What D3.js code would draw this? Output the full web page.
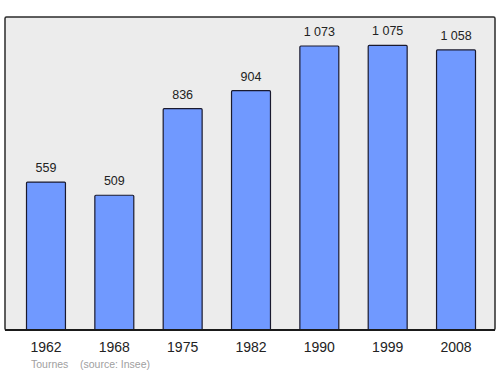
<!DOCTYPE html>
<html>
<head>
<meta charset="utf-8">
<script src="https://d3js.org/d3.v7.min.js"></script>
<style>
  body { margin: 0; padding: 0; background: #fff; }
  text { font-family: "Liberation Sans", Arial, sans-serif; }
</style>
</head>
<body>
<div id="chart"></div>
<script>
// population by census year
var years = ["1962", "1968", "1975", "1982", "1990", "1999", "2008"];
var population = [559, 509, 836, 904, 1073, 1075, 1058];
var valueLabels = ["559", "509", "836", "904", "1 073", "1 075", "1 058"];
var footer = ["Tournes", "(source: Insee)"];

var width = 500, height = 374;
var plot = { left: 5, right: 495, top: 17, bottom: 330 };

var svg = d3.select("#chart").append("svg")
    .attr("width", width)
    .attr("height", height);

// frame / background
svg.append("rect")
    .attr("x", plot.left)
    .attr("y", plot.top)
    .attr("width", plot.right - plot.left)
    .attr("height", plot.bottom - plot.top)
    .attr("fill", "#ececec")
    .attr("stroke", "#2b2b2b")
    .attr("stroke-width", 1.5)
    .attr("rx", 1.5);

var x = d3.scaleBand()
    .domain(years)
    .range([plot.left + 1, plot.right + 1])
    .paddingInner(0.43)
    .paddingOuter(0.3);

var y = d3.scaleLinear()
    .domain([0, d3.max(population) * 1.1])
    .range([plot.bottom, plot.top]);

var data = years.map(function (yr, i) {
    return { year: yr, value: population[i], label: valueLabels[i] };
});

// bars
svg.append("g")
    .selectAll("rect")
    .data(data)
    .enter()
    .append("rect")
    .attr("x", function (d) { return x(d.year); })
    .attr("y", function (d) { return y(d.value); })
    .attr("width", x.bandwidth())
    .attr("height", function (d) { return plot.bottom - y(d.value); })
    .attr("fill", "#7099ff")
    .attr("stroke", "#1a1a2e")
    .attr("stroke-width", 1.2)
    .attr("rx", 1);

// value labels
svg.append("g")
    .selectAll("text")
    .data(data)
    .enter()
    .append("text")
    .attr("x", function (d) { return x(d.year) + x.bandwidth() / 2; })
    .attr("y", function (d) { return y(d.value) - 10; })
    .attr("text-anchor", "middle")
    .attr("font-size", 12.5)
    .attr("fill", "#222")
    .text(function (d) { return d.label; });

// bottom axis line
svg.append("line")
    .attr("x1", plot.left)
    .attr("x2", plot.right)
    .attr("y1", plot.bottom)
    .attr("y2", plot.bottom)
    .attr("stroke", "#1a1a1a")
    .attr("stroke-width", 1.8);

// year labels
svg.append("g")
    .selectAll("text")
    .data(years)
    .enter()
    .append("text")
    .attr("x", function (d) { return x(d) + x.bandwidth() / 2; })
    .attr("y", 352)
    .attr("text-anchor", "middle")
    .attr("font-size", 14)
    .attr("fill", "#222")
    .text(function (d) { return d; });

// footer
svg.append("text")
    .attr("x", 31)
    .attr("y", 368)
    .attr("font-size", 10.5)
    .attr("fill", "#a0a0a0")
    .text(footer[0]);

svg.append("text")
    .attr("x", 80)
    .attr("y", 368)
    .attr("font-size", 10.5)
    .attr("fill", "#a0a0a0")
    .text(footer[1]);
</script>
</body>
</html>
